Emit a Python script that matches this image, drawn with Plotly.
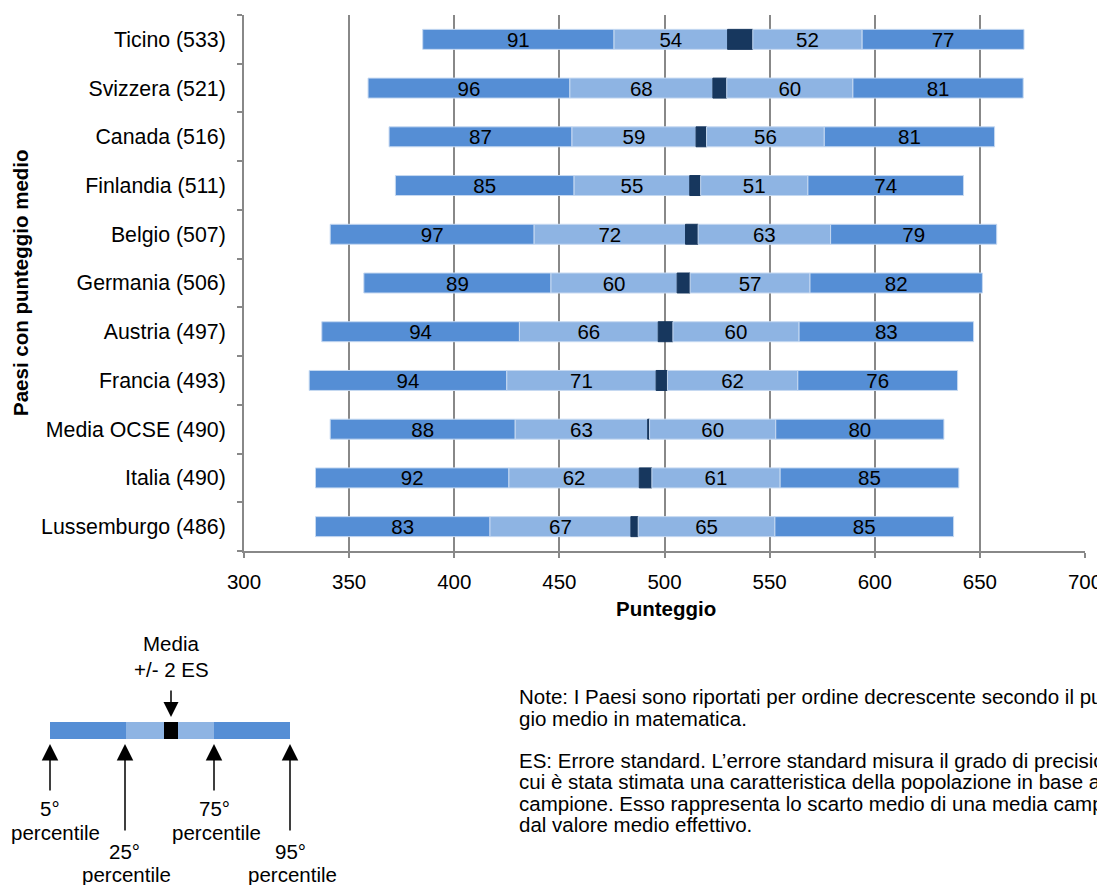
import plotly.graph_objects as go

countries = ["Ticino (533)", "Svizzera (521)", "Canada (516)", "Finlandia (511)",
             "Belgio (507)", "Germania (506)", "Austria (497)", "Francia (493)",
             "Media OCSE (490)", "Italia (490)", "Lussemburgo (486)"]
p5 = [385, 359, 369, 372, 341, 357, 337, 331, 341, 334, 334]
seg_5_25 = [91, 96, 87, 85, 97, 89, 94, 94, 88, 92, 83]
seg_25_lo = [54, 68, 59, 55, 72, 60, 66, 71, 63, 62, 67]
ci_width = [12, 6.6, 5, 5.2, 6, 6.2, 7, 5.4, 0.9, 6, 3.5]
seg_hi_75 = [52, 60, 56, 51, 63, 57, 60, 62, 60, 61, 65]
seg_75_95 = [77, 81, 81, 74, 79, 82, 83, 76, 80, 85, 85]

BLUE = "#558ED5"
LIGHT = "#8EB4E3"
NAVY = "#17375E"
EDGE = "#C6D9F1"
GRID = "#888888"
FONT = "Liberation Sans, Arial, sans-serif"
FS = 20.5

segments = [
    (seg_5_25, BLUE, True),
    (seg_25_lo, LIGHT, True),
    (ci_width, NAVY, False),
    (seg_hi_75, LIGHT, True),
    (seg_75_95, BLUE, True),
]

fig = go.Figure()
base = list(p5)
for vals, col, lab in segments:
    fig.add_trace(go.Bar(
        y=countries, x=vals, base=list(base), orientation="h",
        width=0.41,
        marker=dict(color=col, line=dict(color=EDGE if col != NAVY else NAVY, width=1)),
        text=[str(v) for v in vals] if lab else None,
        textposition="inside" if lab else "none",
        insidetextanchor="middle", textangle=0,
        textfont=dict(color="black", size=FS, family=FONT),
        hoverinfo="skip", showlegend=False,
    ))
    base = [b + v for b, v in zip(base, vals)]

OFF = 8  # default page body margin
W, H = 1105 - OFF, 885 - OFF
L, T = 244 - OFF, 15 - OFF
R = W - (1085 - OFF)
B = H - (551 - OFF)
PW = W - L - R
PH = H - T - B


def px(x):
    return (x - OFF - L) / PW


def py(y):
    return (H - B - (y - OFF)) / PH


shapes = []
annotations = []

# legend diagram bar
seg_px = [(50, 126, BLUE), (126, 164, LIGHT), (164, 178, "black"), (178, 214, LIGHT), (214, 290, BLUE)]
for x0, x1, c in seg_px:
    shapes.append(dict(type="rect", xref="paper", yref="paper",
                       x0=px(x0), x1=px(x1), y0=py(739), y1=py(722),
                       fillcolor=c, line=dict(width=0), layer="above"))

# arrows
for xa, ytail in [(50, 792), (125, 832), (214, 792), (290, 832)]:
    annotations.append(dict(xref="paper", yref="paper", x=px(xa), y=py(744),
                            ax=0, ay=ytail - 744, showarrow=True, arrowhead=2,
                            arrowsize=2.2, arrowwidth=1.5, arrowcolor="black", text=""))
annotations.append(dict(xref="paper", yref="paper", x=px(171), y=py(717),
                        ax=0, ay=-28, showarrow=True, arrowhead=2,
                        arrowsize=2.0, arrowwidth=1.5, arrowcolor="black", text=""))

leg_texts = [
    ("Media", 171, 643), ("+/- 2 ES", 171, 669),
    ("5°", 50, 808), ("percentile", 55, 832),
    ("25°", 125, 851), ("percentile", 126, 874),
    ("75°", 214, 808), ("percentile", 216, 832),
    ("95°", 290, 851), ("percentile", 292, 874),
]
for t, x, y in leg_texts:
    annotations.append(dict(xref="paper", yref="paper", x=px(x), y=py(y),
                            xanchor="center", yanchor="middle", showarrow=False,
                            text=t, font=dict(size=FS, color="black", family=FONT)))

notes = [
    ("Note: I Paesi sono riportati per ordine decrescente secondo il punteg-", 696),
    ("gio medio in matematica.", 718),
    ("ES: Errore standard. L\u2019errore standard misura il grado di precisione con", 760),
    ("cui è stata stimata una caratteristica della popolazione in base a un", 781),
    ("campione. Esso rappresenta lo scarto medio di una media campionaria", 803),
    ("dal valore medio effettivo.", 824),
]
for t, y in notes:
    annotations.append(dict(xref="paper", yref="paper", x=px(517), y=py(y),
                            xanchor="left", yanchor="middle", showarrow=False,
                            text=t, font=dict(size=FS, color="black", family=FONT)))

# axis titles
annotations.append(dict(xref="paper", yref="paper", x=px(20), y=py(283),
                        xanchor="center", yanchor="middle", showarrow=False, textangle=-90,
                        text="<b>Paesi con punteggio medio</b>",
                        font=dict(size=FS, color="black", family=FONT)))
annotations.append(dict(xref="paper", yref="paper", x=px(666), y=py(608),
                        xanchor="center", yanchor="middle", showarrow=False,
                        text="<b>Punteggio</b>",
                        font=dict(size=FS, color="black", family=FONT)))

fig.update_layout(
    width=W, height=H,
    margin=dict(l=L, r=R, t=T, b=B, autoexpand=False),
    paper_bgcolor="white", plot_bgcolor="white",
    barmode="overlay",
    uniformtext=dict(minsize=FS, mode="show"),
    font=dict(family=FONT, size=FS, color="black"),
    shapes=shapes, annotations=annotations,
    xaxis=dict(range=[300, 700], dtick=50, tick0=300, showgrid=True,
               gridcolor=GRID, gridwidth=2,
               showline=True, linecolor=GRID, linewidth=2,
               ticks="outside", ticklen=5, tickcolor=GRID, tickwidth=2,
               tickfont=dict(size=FS, color="black", family=FONT),
               ticklabelstandoff=6, zeroline=False, fixedrange=True),
    yaxis=dict(categoryorder="array", categoryarray=countries[::-1],
               range=[-0.5, 10.5], showgrid=False,
               showline=True, linecolor=GRID, linewidth=2,
               ticks="outside", ticklen=5, tickcolor=GRID, tickwidth=2, tickson="boundaries",
               tickfont=dict(size=21.3, color="black", family=FONT),
               ticklabelstandoff=12, zeroline=False, fixedrange=True),
)

fig.write_html("out.html")
